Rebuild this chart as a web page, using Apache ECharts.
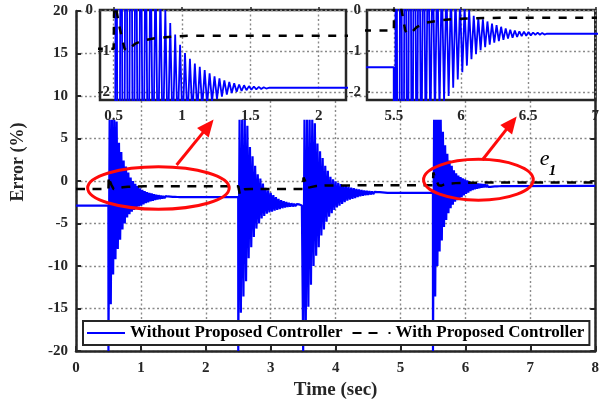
<!DOCTYPE html>
<html><head><meta charset="utf-8">
<script src="https://cdn.jsdelivr.net/npm/echarts@6/dist/echarts.min.js"></script>
<style>html,body{margin:0;padding:0;background:#fff}#c{width:602px;height:405px}</style>
</head><body><div id="c"></div>
<script>
// ---- data (time in s, error in %) ----
const seriesNames = ['Without Proposed Controller', 'With Proposed Controller'];
const xTicksMain = [0, 8, 1];          // min, max, step
const yTicksMain = [-20, 20, 5];
const inset1X = [0.4, 2.2];
const inset1XTicks = [0.5, 1, 1.5, 2];
const inset2X = [5.3, 7.0];
const inset2XTicks = [5.5, 6, 6.5, 7];
const insetY = [-2.2, 0];
const insetYTicks = [0, -1, -2];

// Without controller: plateaus and oscillation extremes
const blueSeg0 = [[0, -2.9], [0.499, -2.9]];
const blueEv1 = [[0.500,-20],[0.518,7.2],[0.536,-14.5],[0.554,7.2],[0.572,-11.0],[0.590,7.2],[0.608,-9.2],[0.626,7.0],[0.644,-8.0],[0.662,4.5],[0.680,-6.9],[0.698,3.4],[0.716,-5.7],[0.734,2.4],[0.752,-5.0],[0.770,1.7],[0.788,-4.3],[0.806,1.0],[0.824,-3.9],[0.842,0.4],[0.860,-3.6],[0.878,0.0],[0.896,-3.4],[0.914,-0.32],[0.932,-3.2],[0.950,-0.6],[0.968,-3.0],[0.986,-0.85],[1.004,-2.9],[1.022,-1.05],[1.040,-2.75],[1.058,-1.19],[1.076,-2.6],[1.094,-1.31],[1.112,-2.5],[1.130,-1.39],[1.148,-2.4],[1.166,-1.47],[1.184,-2.32],[1.202,-1.55],[1.220,-2.25],[1.238,-1.62],[1.256,-2.18],[1.274,-1.67],[1.292,-2.12],[1.310,-1.72],[1.328,-2.07],[1.346,-1.76],[1.364,-2.03],[1.382,-1.79],[1.400,-2.0],[1.418,-1.82],[1.436,-1.98],[1.454,-1.84],[1.472,-1.96],[1.490,-1.86],[1.508,-1.95],[1.526,-1.87],[1.544,-1.94],[1.562,-1.88],[1.580,-1.93],[1.598,-1.89],[1.616,-1.92],[1.64,-1.9],[2.499,-1.9]];
const blueEv2 = [[2.50,-20],[2.52,7.2],[2.54,-15.5],[2.56,7.2],[2.58,-13.6],[2.60,7.2],[2.62,-11.8],[2.64,6.5],[2.66,-9.1],[2.68,4.0],[2.70,-7.8],[2.72,2.9],[2.74,-6.6],[2.76,1.8],[2.78,-5.6],[2.80,0.8],[2.82,-5.0],[2.84,0.3],[2.86,-4.4],[2.88,-0.3],[2.90,-4.1],[2.92,-0.8],[2.94,-3.85],[2.96,-1.1],[2.98,-3.7],[3.00,-1.4],[3.02,-3.6],[3.04,-1.65],[3.06,-3.5],[3.08,-1.9],[3.10,-3.4],[3.12,-2.1],[3.14,-3.3],[3.16,-2.25],[3.18,-3.2],[3.20,-2.38],[3.22,-3.12],[3.24,-2.48],[3.26,-3.06],[3.28,-2.56],[3.30,-3.02],[3.32,-2.62],[3.34,-2.99],[3.36,-2.67],[3.38,-2.96],[3.40,-2.72],[3.42,-2.94],[3.44,-2.76],[3.46,-2.92],[3.48,-2.88],[3.499,-2.9]];
const blueEv3 = [[3.50,-20],[3.52,7.2],[3.54,-17],[3.56,7.2],[3.58,-14.8],[3.60,7.2],[3.62,-12.2],[3.64,7.2],[3.66,-10.0],[3.68,6.8],[3.70,-8.8],[3.72,4.4],[3.74,-7.8],[3.76,3.5],[3.78,-6.4],[3.80,2.7],[3.82,-5.7],[3.84,1.8],[3.86,-4.8],[3.88,1.2],[3.90,-4.2],[3.92,0.5],[3.94,-3.8],[3.96,0.2],[3.98,-3.4],[4.00,-0.05],[4.02,-3.1],[4.04,-0.2],[4.06,-2.9],[4.08,-0.35],[4.10,-2.7],[4.12,-0.48],[4.14,-2.5],[4.16,-0.58],[4.18,-2.3],[4.20,-0.68],[4.22,-2.2],[4.24,-0.77],[4.26,-2.1],[4.28,-0.85],[4.30,-2.0],[4.32,-0.93],[4.34,-1.9],[4.36,-1.0],[4.38,-1.8],[4.40,-1.06],[4.42,-1.74],[4.44,-1.11],[4.46,-1.68],[4.48,-1.16],[4.50,-1.63],[4.52,-1.2],[4.54,-1.58],[4.56,-1.24],[4.58,-1.54],[4.60,-1.27],[4.62,-1.5],[4.64,-1.3],[4.66,-1.47],[4.68,-1.32],[4.70,-1.45],[4.72,-1.34],[4.74,-1.43],[4.76,-1.36],[4.78,-1.42],[4.80,-1.4],[5.499,-1.4]];
const blueEv4 = [[5.500,-20],[5.517,7.2],[5.534,-13.6],[5.551,7.2],[5.568,-10.0],[5.585,7.2],[5.602,-8.3],[5.619,7.2],[5.636,-7.0],[5.653,5.8],[5.670,-5.4],[5.687,4.2],[5.704,-4.6],[5.721,3.2],[5.738,-3.8],[5.755,2.4],[5.772,-3.2],[5.789,1.8],[5.806,-2.8],[5.823,1.25],[5.840,-2.45],[5.857,0.9],[5.874,-2.25],[5.891,0.65],[5.908,-2.1],[5.925,0.45],[5.942,-1.9],[5.959,0.32],[5.976,-1.7],[5.993,0.2],[6.010,-1.52],[6.027,0.08],[6.044,-1.36],[6.061,0.0],[6.078,-1.2],[6.095,-0.14],[6.112,-1.08],[6.129,-0.19],[6.146,-0.98],[6.163,-0.23],[6.180,-0.91],[6.197,-0.28],[6.214,-0.85],[6.231,-0.33],[6.248,-0.8],[6.265,-0.37],[6.282,-0.76],[6.299,-0.41],[6.316,-0.73],[6.333,-0.45],[6.350,-0.7],[6.367,-0.48],[6.384,-0.68],[6.401,-0.5],[6.418,-0.66],[6.435,-0.52],[6.452,-0.64],[6.469,-0.53],[6.486,-0.63],[6.503,-0.54],[6.520,-0.62],[6.537,-0.55],[6.554,-0.61],[6.571,-0.555],[6.588,-0.605],[6.605,-0.56],[6.622,-0.6],[6.64,-0.58],[8,-0.58]];

// With controller
const dashData = [[0,-0.95],[0.5,-0.95],[0.505,0.5],[0.52,0.0],[0.545,-0.45],[0.58,-0.95],[0.6,-1.0],[0.63,-0.9],[0.66,-0.82],[0.72,-0.74],[0.8,-0.69],[0.9,-0.66],[1.05,-0.63],[2.5,-0.63],[2.505,-0.7],[2.525,-1.6],[2.55,-1.25],[2.6,-0.98],[2.7,-0.94],[3.5,-0.94],[3.505,0.4],[3.53,0.0],[3.56,-0.8],[3.6,-0.75],[3.7,-0.6],[3.85,-0.52],[5.5,-0.5],[5.505,1.0],[5.53,0.4],[5.56,-0.05],[5.585,-0.5],[5.6,-0.58],[5.63,-0.55],[5.67,-0.42],[5.74,-0.31],[5.85,-0.25],[5.95,-0.22],[6.1,-0.2],[6.3,-0.19],[8,-0.19]];

// annotations (data units): ellipse centre, radii; arrow start/tip; label
const ellipses = [[1.27, -0.82, 1.09, 2.5], [6.2, 0.15, 0.845, 2.4]];
const arrows = [[1.55, 1.88, 2.12, 7.24], [6.26, 2.47, 6.79, 7.6]];
const e1Pos = [7.22, 2.6];

const blueData = [].concat(blueSeg0, blueEv1, blueEv2, blueEv3, blueEv4);

// ---- chart ----
const FONT = "'Liberation Serif','Times New Roman',serif";
const INK = '#262626';
const dotted = {show: true, lineStyle: {color: '#8a8a8a', width: 1.4, type: [2, 2.5]}};
const lblStyle = {color: INK, fontFamily: FONT, fontWeight: 'bold', fontSize: 15};

const chart = echarts.init(document.getElementById('c'), null, {renderer: 'canvas'});

function insetX(idx, range, ticks) {
  return {
    type: 'value', gridIndex: idx, min: range[0], max: range[1], z: 11,
    axisLine: {show: false},
    axisTick: {show: true, inside: true, length: 3, customValues: ticks, lineStyle: {color: INK, width: 1.5}},
    axisLabel: Object.assign({margin: 9, customValues: ticks}, lblStyle),
    splitLine: dotted
  };
}
function insetYAx(idx, margin, zeroPad) {
  return {
    type: 'value', gridIndex: idx, min: insetY[0], max: insetY[1], z: 11,
    axisLine: {show: false},
    axisTick: {show: true, inside: true, length: 3, customValues: insetYTicks, lineStyle: {color: INK, width: 1.5}},
    axisLabel: Object.assign({
      margin: margin, customValues: insetYTicks,
      formatter: v => (v === 0 ? '{z|0}' : '{n|' + v + '}'),
      rich: {
        z: Object.assign({padding: [0, zeroPad, 0, 0]}, lblStyle),
        n: Object.assign({}, lblStyle)
      }
    }, lblStyle),
    splitLine: dotted
  };
}

const option = {
  animation: false,
  backgroundColor: '#fff',
  grid: [
    {left: 76, right: 2, top: 11, bottom: 54, containLabel: false},
    {left: 100, top: 10, width: 246, height: 90, show: true, backgroundColor: '#fff', borderColor: INK, borderWidth: 2.5, z: 10},
    {left: 367, top: 10, width: 233, height: 90, show: true, backgroundColor: '#fff', borderColor: INK, borderWidth: 2.5, z: 10}
  ],
  legend: {
    data: [
      {name: seriesNames[0], icon: 'path://M0,0H38V2H0Z'},
      {name: seriesNames[1], icon: 'path://M0,0H9V2H0Z M16,0H25V2H16Z M36,0H38V2H36Z'}
    ],
    left: 83, top: 321, orient: 'horizontal',
    padding: [3, 5, 3, 4], itemGap: 10, itemWidth: 38, itemHeight: 2.5,
    borderColor: INK, borderWidth: 2, backgroundColor: '#fff', borderRadius: 0,
    textStyle: {color: '#000', fontFamily: FONT, fontWeight: 'bold', fontSize: 17, lineHeight: 18},
    z: 20
  },
  xAxis: [
    {
      type: 'value', gridIndex: 0, min: xTicksMain[0], max: xTicksMain[1], interval: xTicksMain[2],
      name: 'Time (sec)', nameLocation: 'middle', nameGap: 27,
      nameTextStyle: {color: INK, fontFamily: FONT, fontWeight: 'bold', fontSize: 19},
      axisLine: {show: true, onZero: false, lineStyle: {color: INK, width: 2.5}},
      axisTick: {inside: true, length: 5, lineStyle: {color: INK, width: 2}},
      axisLabel: Object.assign({margin: 10}, lblStyle),
      splitLine: dotted
    },
    insetX(1, inset1X, inset1XTicks),
    insetX(2, inset2X, inset2XTicks)
  ],
  yAxis: [
    {
      type: 'value', gridIndex: 0, min: yTicksMain[0], max: yTicksMain[1], interval: yTicksMain[2],
      name: 'Error (%)', nameLocation: 'middle', nameGap: 49,
      nameTextStyle: {color: INK, fontFamily: FONT, fontWeight: 'bold', fontSize: 18, padding: [0, 0, 0, 38]},
      axisLine: {show: true, onZero: false, lineStyle: {color: INK, width: 2.5}},
      axisTick: {inside: true, length: 5, lineStyle: {color: INK, width: 2}},
      axisLabel: Object.assign({margin: 8}, lblStyle),
      splitLine: dotted
    },
    insetYAx(1, -10, 17),
    insetYAx(2, 6, 0),
    {
      type: 'value', gridIndex: 0, position: 'right', min: yTicksMain[0], max: yTicksMain[1], interval: yTicksMain[2],
      axisLine: {show: true, onZero: false, lineStyle: {color: INK, width: 2.5}},
      axisTick: {inside: true, length: 5, lineStyle: {color: INK, width: 2}},
      axisLabel: {show: false}, splitLine: {show: false}
    }
  ],
  series: [
    {name: seriesNames[0], type: 'line', xAxisIndex: 0, yAxisIndex: 0, data: blueData, showSymbol: false, symbol: 'none',
      lineStyle: {color: '#0000ff', width: 2.2}, itemStyle: {color: '#0000ff'}, z: 2},
    {name: seriesNames[1], type: 'line', xAxisIndex: 0, yAxisIndex: 0, data: dashData, showSymbol: false, symbol: 'none',
      lineStyle: {color: '#000', width: 2.5, type: [9, 7.5]}, itemStyle: {color: '#000'}, z: 3},
    {name: seriesNames[0], type: 'line', xAxisIndex: 1, yAxisIndex: 1, data: blueData, symbol: 'none', clip: true,
      lineStyle: {color: '#0000ff', width: 1.8}, itemStyle: {color: '#0000ff'}, z: 12},
    {name: seriesNames[1], type: 'line', xAxisIndex: 1, yAxisIndex: 1, data: dashData, symbol: 'none', clip: true,
      lineStyle: {color: '#000', width: 2.5, type: [8, 8.5]}, itemStyle: {color: '#000'}, z: 13},
    {name: seriesNames[0], type: 'line', xAxisIndex: 2, yAxisIndex: 2, data: blueData, symbol: 'none', clip: true,
      lineStyle: {color: '#0000ff', width: 1.8}, itemStyle: {color: '#0000ff'}, z: 12},
    {name: seriesNames[1], type: 'line', xAxisIndex: 2, yAxisIndex: 2, data: dashData, symbol: 'none', clip: true,
      lineStyle: {color: '#000', width: 2.5, type: [8, 8.5]}, itemStyle: {color: '#000'}, z: 13}
  ]
};
chart.setOption(option);

// annotations placed via the main axes' scales
function px(p) { return chart.convertToPixel({xAxisIndex: 0, yAxisIndex: 0}, p); }
const RED = '#ff0a0a';
const g = [];
ellipses.forEach(e => {
  const c = px([e[0], e[1]]);
  const rx = px([e[0] + e[2], e[1]])[0] - c[0];
  const ry = c[1] - px([e[0], e[1] + e[3]])[1];
  g.push({type: 'ellipse', shape: {cx: c[0], cy: c[1], rx: rx, ry: ry},
    style: {fill: 'none', stroke: RED, lineWidth: 3}, z: 30});
});
arrows.forEach(a => {
  const s = px([a[0], a[1]]), t = px([a[2], a[3]]);
  const dx = t[0] - s[0], dy = t[1] - s[1], L = Math.hypot(dx, dy);
  const ux = dx / L, uy = dy / L, hl = 17, hw = 7.5;
  const bx = t[0] - ux * hl, by = t[1] - uy * hl;
  g.push({type: 'line', shape: {x1: s[0], y1: s[1], x2: bx + ux * 2, y2: by + uy * 2},
    style: {stroke: RED, lineWidth: 3}, z: 30});
  g.push({type: 'polygon', shape: {points: [[t[0], t[1]], [bx - uy * hw, by + ux * hw], [bx + uy * hw, by - ux * hw]]},
    style: {fill: RED}, z: 30});
});
const ep = px(e1Pos);
g.push({type: 'text', x: ep[0], y: ep[1], z: 30,
  style: {text: 'e', fill: '#000', font: "italic 22px 'Liberation Serif', serif", align: 'center', verticalAlign: 'middle'}});
g.push({type: 'text', x: ep[0] + 8, y: ep[1] + 12, z: 30,
  style: {text: '1', fill: '#000', font: "italic bold 15px 'Liberation Serif', serif", align: 'center', verticalAlign: 'middle'}});
chart.setOption({graphic: g});
</script></body></html>
